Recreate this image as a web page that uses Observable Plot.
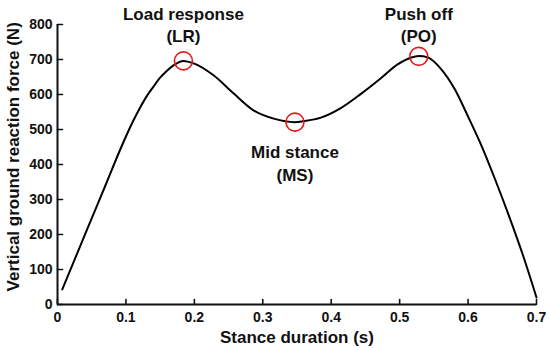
<!DOCTYPE html>
<html>
<head>
<meta charset="utf-8">
<script src="https://cdn.jsdelivr.net/npm/d3@7"></script>
<script src="https://cdn.jsdelivr.net/npm/@observablehq/plot@0.6"></script>
<style>
  html, body { margin: 0; padding: 0; background: #fff; }
  #chart svg { display: block; }
</style>
</head>
<body>
<div id="chart"></div>
<script>
const timeS = [0.007, 0.030, 0.050, 0.070, 0.090, 0.100, 0.110, 0.120, 0.130, 0.140, 0.150, 0.160, 0.170, 0.184, 0.199, 0.228, 0.258, 0.287, 0.316, 0.347, 0.360, 0.385, 0.414, 0.443, 0.473, 0.497, 0.516, 0.528, 0.541, 0.560, 0.580, 0.600, 0.620, 0.640, 0.660, 0.680, 0.700];
const forceN = [43, 152, 246, 340, 435, 480, 522, 560, 594, 622, 648, 668, 684, 696, 689, 655, 602, 554, 531, 521, 524, 534, 561, 601, 647, 686, 705, 710, 706, 674, 617, 537, 452, 355, 252, 142, 20];

const eventNames = ["Load response", "Mid stance", "Push off"];
const eventAbbr = ["(LR)", "(MS)", "(PO)"];
const eventTime = [0.184, 0.347, 0.528];
const eventForce = [696, 521, 709];
const eventLabelAbove = [true, false, true];

const xTicks = [0, 0.1, 0.2, 0.3, 0.4, 0.5, 0.6, 0.7];
const yTicks = [0, 100, 200, 300, 400, 500, 600, 700, 800];

const curve = timeS.map((t, i) => ({t, f: forceN[i]}));
const events = eventNames.map((n, i) => ({name: n, abbr: eventAbbr[i], t: eventTime[i], f: eventForce[i], above: eventLabelAbove[i]}));
const above = events.filter(d => d.above);
const below = events.filter(d => !d.above);

const font = "Liberation Sans, Arial, sans-serif";
const ink = "#111";
const tickShape = {draw(context, l) { context.moveTo(0, 0); context.lineTo(0, -l); }};

const chart = Plot.plot({
  width: 550,
  height: 348,
  marginLeft: 57,
  marginRight: 14,
  marginTop: 24,
  marginBottom: 44,
  style: {fontFamily: font, fontWeight: "bold", fontSize: "14px", color: ink, background: "#fff"},
  x: {domain: [0, 0.7]},
  y: {domain: [0, 800]},
  marks: [
    Plot.axisX({ticks: xTicks, tickFormat: d => d === 0 ? "0" : d3.format(".1f")(d), tickSize: 0, tickPadding: 8, fontSize: 14, fontWeight: "bold", fill: ink, label: null}),
    Plot.axisY({ticks: yTicks, tickSize: 0, tickPadding: 5, fontSize: 14, fontWeight: "bold", fill: ink, label: null}),
    Plot.vector(xTicks, {x: d => d, y: 0, length: 5, rotate: 0, anchor: "start", shape: tickShape, stroke: ink, strokeWidth: 1.6}),
    Plot.vector(yTicks, {x: 0, y: d => d, length: 5, rotate: 90, anchor: "start", shape: tickShape, stroke: ink, strokeWidth: 1.6}),
    Plot.ruleY([0], {x1: 0, x2: 0.7, stroke: ink, strokeWidth: 2}),
    Plot.ruleX([0], {y1: 0, y2: 800, stroke: ink, strokeWidth: 2}),
    Plot.line(curve, {x: "t", y: "f", curve: "monotone-x", stroke: "#000", strokeWidth: 2}),
    Plot.dot(events, {x: "t", y: "f", r: 9, stroke: "#e3191c", strokeWidth: 1.6, fill: "none"}),
    Plot.text(above, {x: "t", frameAnchor: "top", text: "name", dy: -5, fontSize: 17, fontWeight: "bold", fill: ink, lineAnchor: "bottom", textAnchor: "middle"}),
    Plot.text(above, {x: "t", frameAnchor: "top", text: "abbr", dy: 17, fontSize: 17, fontWeight: "bold", fill: ink, lineAnchor: "bottom", textAnchor: "middle"}),
    Plot.text(below, {x: "t", y: "f", text: "name", dy: 35.5, fontSize: 17, fontWeight: "bold", fill: ink, lineAnchor: "bottom"}),
    Plot.text(below, {x: "t", y: "f", text: "abbr", dy: 58.5, fontSize: 17, fontWeight: "bold", fill: ink, lineAnchor: "bottom"}),
    Plot.text(["Stance duration (s)"], {x: 0.35, y: 0, text: d => d, dy: 38, fontSize: 17, fontWeight: "bold", fill: ink, lineAnchor: "bottom"}),
    Plot.text(["Vertical ground reaction force (N)"], {frameAnchor: "left", y: 422, text: d => d, dx: -44, rotate: -90, textAnchor: "middle", fontSize: 17, fontWeight: "bold", fill: ink})
  ]
});
document.getElementById("chart").appendChild(chart);
</script>
</body>
</html>
